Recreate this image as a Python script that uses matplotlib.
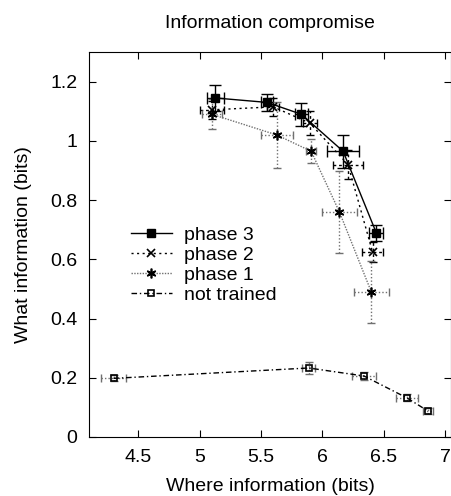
import matplotlib
matplotlib.use("Agg")
import matplotlib.pyplot as plt

plt.rcParams['font.family'] = ['Liberation Sans', 'DejaVu Sans']
plt.rcParams['font.size'] = 14

# data
p3_x = [5.13, 5.55, 5.83, 6.17, 6.44]
p3_y = [1.145, 1.13, 1.09, 0.965, 0.69]
p3_xerr = [0.07, 0.05, 0.05, 0.13, 0.055]
p3_yerr = [0.045, 0.028, 0.038, 0.055, 0.027]

p2_x = [5.10, 5.60, 5.90, 6.21, 6.41]
p2_y = [1.105, 1.115, 1.06, 0.92, 0.625]
p2_xerr = [0.10, 0.05, 0.06, 0.12, 0.085]
p2_yerr = [0.03, 0.03, 0.04, 0.05, 0.035]

p1_x = [5.10, 5.63, 5.91, 6.14, 6.40]
p1_y = [1.09, 1.02, 0.965, 0.76, 0.49]
p1_xerr = [0.08, 0.13, 0.04, 0.14, 0.14]
p1_yerr = [0.05, 0.11, 0.04, 0.14, 0.105]

nt_x = [4.30, 5.89, 6.34, 6.69, 6.86]
nt_y = [0.198, 0.233, 0.206, 0.132, 0.088]
nt_xerr = [0.10, 0.055, 0.10, 0.09, 0.04]
nt_yerr = [0.01, 0.02, 0.015, 0.012, 0.01]

fig = plt.figure(figsize=(4.52, 4.96), dpi=100)
ax = fig.add_axes([0.197, 0.119, 0.801, 0.776])

asterisk = (6, 2, 0)

# error bars
ax.errorbar(p3_x, p3_y, xerr=p3_xerr, yerr=p3_yerr, fmt='none', ecolor='black',
            elinewidth=1, capsize=4)
eb = ax.errorbar(p2_x, p2_y, xerr=p2_xerr, yerr=p2_yerr, fmt='none', ecolor='black',
                 elinewidth=1, capsize=3)
for c in eb[2]:
    c.set_linestyle((0, (2, 2)))
eb = ax.errorbar(p1_x, p1_y, xerr=p1_xerr, yerr=p1_yerr, fmt='none', ecolor='#707070',
                 elinewidth=1, capsize=3)
for c in eb[2]:
    c.set_linestyle((0, (1, 1.5)))
eb = ax.errorbar(nt_x, nt_y, xerr=nt_xerr, yerr=nt_yerr, fmt='none', ecolor='#707070',
                 elinewidth=1, capsize=3)
for c in eb[2]:
    c.set_linestyle((0, (1, 1.5)))

# lines and markers
ax.plot(p3_x, p3_y, '-', color='black', lw=1, marker='s', ms=6, label='phase 3')
ax.plot(p2_x, p2_y, color='black', lw=1, ls=(0, (1.5, 2.5)), marker='x', ms=6,
        mew=1.2, label='phase 2')
ax.plot(p1_x, p1_y, color='#707070', lw=1, ls=(0, (1, 1)), marker=asterisk, ms=7,
        mec='black', mfc='black', mew=1.2, label='phase 1')
ax.plot(nt_x, nt_y, color='black', lw=1, ls=(0, (4, 2, 1, 2)), marker='s', ms=5,
        mfc='none', mec='black', mew=1.2, label='not trained')

ax.set_xlim(4.1, 7.05)
ax.set_ylim(0, 1.3)
ax.set_xticks([4.5, 5, 5.5, 6, 6.5, 7])
ax.set_xticklabels(['4.5', '5', '5.5', '6', '6.5', '7'])
ax.set_yticks([0, 0.2, 0.4, 0.6, 0.8, 1, 1.2])
ax.set_yticklabels(['0', '0.2', '0.4', '0.6', '0.8', '1', '1.2'])
ax.tick_params(direction='in', top=True, right=True, length=5, width=0.8, pad=8.5)

ax.set_xlabel('Where information (bits)', labelpad=9)
ax.set_ylabel('What information (bits)', labelpad=13)
ax.set_title('Information compromise', fontsize=14, pad=17)

ax.legend(loc='upper left', bbox_to_anchor=(0.077, 0.582), frameon=False, numpoints=1,
          handlelength=2.15, handletextpad=0.62, labelspacing=0.12, borderpad=0.2)

fig.savefig('out.png', dpi=100)
